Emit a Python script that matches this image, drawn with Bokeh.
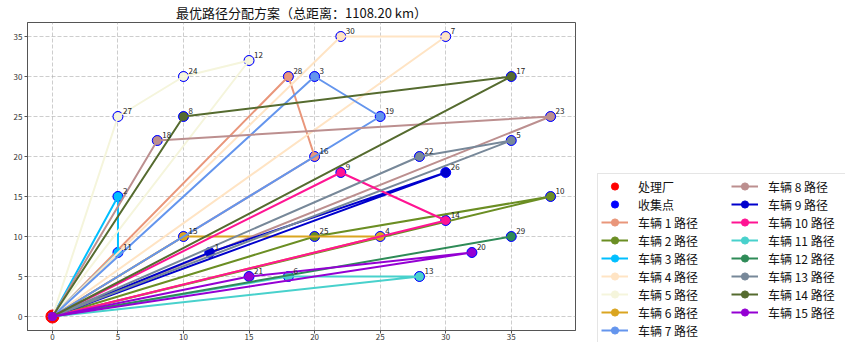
from bokeh.plotting import figure
from bokeh.layouts import row
from bokeh.models import Range1d, Legend, LegendItem, ColumnDataSource, FixedTicker
from bokeh.core.properties import value
from bokeh.embed import file_html
from bokeh.resources import INLINE

FONT = "Noto Sans CJK SC"

# Node coordinates (km); index 0 is the treatment plant
node_x = [0, 12, 5, 20, 25, 35, 18, 30, 10, 22, 38, 5, 15, 28, 30, 10,
          20, 35, 8, 25, 32, 15, 28, 38, 10, 20, 30, 5, 18, 35, 22]
node_y = [0, 8, 15, 30, 10, 22, 5, 35, 25, 18, 15, 8, 32, 5, 12, 10,
          20, 30, 22, 25, 8, 5, 20, 25, 30, 10, 18, 25, 30, 10, 35]

# One route per vehicle, starting and ending at the plant
routes = [
    [0, 28, 16, 0],
    [0, 25, 10, 0],
    [0, 2, 11, 0],
    [0, 30, 7, 0],
    [0, 27, 24, 12, 0],
    [0, 15, 4, 0],
    [0, 3, 19, 0],
    [0, 18, 23, 0],
    [0, 1, 26, 0],
    [0, 9, 14, 0],
    [0, 6, 13, 0],
    [0, 29, 0],
    [0, 22, 5, 0],
    [0, 8, 17, 0],
    [0, 21, 20, 0],
]
route_colors = [
    "#E9967A", "#6B8E23", "#00BFFF", "#FFE4C4", "#F5F5DC",
    "#DAA520", "#6495ED", "#BC8F8F", "#0000CD", "#FF1493",
    "#48D1CC", "#2E8B57", "#778899", "#556B2F", "#9400D3",
]
total_distance = 1108.20
tick_values = [0, 5, 10, 15, 20, 25, 30, 35]

PLOT_W = 583
p = figure(width=PLOT_W, height=342, output_backend="svg", toolbar_location=None,
           x_range=Range1d(-1.9, 39.9), y_range=Range1d(-1.75, 36.75),
           min_border_left=27, min_border_right=8,
           min_border_top=0, min_border_bottom=0)

p.title.text = f"最优路径分配方案（总距离：{total_distance:.2f} km）"
p.title.align = "center"
p.title.text_font = FONT
p.title.text_font_size = "13px"
p.title.text_font_style = "normal"
p.title.text_color = "#111111"
p.title.standoff = 1

for ax in (p.xaxis, p.yaxis):
    ax.ticker = FixedTicker(ticks=tick_values)
    ax.major_label_text_font_size = "8px"
    ax.major_label_text_font = FONT
    ax.major_label_text_color = "#333333"
    ax.major_tick_out = 3
    ax.major_tick_in = 0
    ax.minor_tick_line_color = None
    ax.axis_line_color = "#555555"
    ax.major_tick_line_color = "#555555"
p.xaxis.major_label_standoff = 0
p.yaxis.major_label_standoff = 2

p.outline_line_color = "#555555"
p.outline_line_width = 1
for g in (p.xgrid, p.ygrid):
    g.grid_line_color = "#b0b0b0"
    g.grid_line_dash = "4 2"
    g.grid_line_alpha = 0.8
    g.grid_line_width = 0.8

# Plant and collection points
plant_src = ColumnDataSource(dict(x=[node_x[0]], y=[node_y[0]]))
p.scatter("x", "y", source=plant_src, size=13, color="red")
cust_src = ColumnDataSource(dict(x=node_x[1:], y=node_y[1:]))
p.scatter("x", "y", source=cust_src, size=10, color="blue")

for route, color in zip(routes, route_colors):
    src = ColumnDataSource(dict(x=[node_x[i] for i in route],
                                y=[node_y[i] for i in route]))
    p.line("x", "y", source=src, line_color=color, line_width=2)
    p.scatter("x", "y", source=src, size=8, color=color)

# Node number labels
lab_src = ColumnDataSource(dict(x=node_x[1:], y=node_y[1:],
                                t=[str(i) for i in range(1, len(node_x))]))
p.text("x", "y", text="t", source=lab_src, x_offset=5, y_offset=-3,
       text_font=value(FONT), text_font_size="8px", text_color="#222222",
       text_baseline="bottom", text_align="left")

# Legend panel beside the map; its renderers only supply the legend swatches
lg = figure(width=845 - PLOT_W, height=342, output_backend="svg", toolbar_location=None,
            x_axis_type=None, y_axis_type=None, x_range=Range1d(0, 1), y_range=Range1d(0, 1),
            min_border_left=0, min_border_right=0, min_border_top=0, min_border_bottom=0)
lg.outline_line_color = None
lg.xgrid.visible = False
lg.ygrid.visible = False

def swatch_source():
    return ColumnDataSource(dict(x=[float("nan")], y=[float("nan")]))

items = [
    LegendItem(label="处理厂", renderers=[lg.scatter("x", "y", source=swatch_source(),
                                                   size=14, color="red")]),
    LegendItem(label="收集点", renderers=[lg.scatter("x", "y", source=swatch_source(),
                                                   size=11, color="blue")]),
]
for k, color in enumerate(route_colors, start=1):
    src = swatch_source()
    lr = lg.line("x", "y", source=src, line_color=color, line_width=2)
    mr = lg.scatter("x", "y", source=src, size=8, color=color)
    items.append(LegendItem(label=f"车辆 {k} 路径", renderers=[lr, mr]))

legend = Legend(items=items, location=(597 - PLOT_W, -13), orientation="vertical", nrows=9,
                label_text_font=FONT, label_text_font_size="12px",
                label_text_color="#111111",
                glyph_width=27, glyph_height=18, label_height=18,
                label_width=93, label_standoff=10, spacing=0, padding=3,
                margin=0, border_line_color="#cccccc", border_line_width=1,
                background_fill_alpha=1.0)
lg.add_layout(legend, "left")

open("out.html", "w").write(file_html(row(p, lg), INLINE))
